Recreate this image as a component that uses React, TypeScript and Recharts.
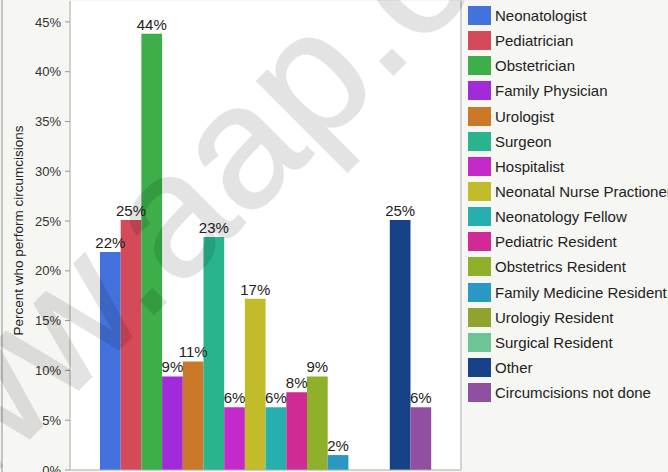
import React from "react";
import { BarChart, Bar, XAxis, YAxis, LabelList, CartesianGrid } from "recharts";

const FONT = '"Liberation Sans", Arial, Helvetica, sans-serif';

const categories = ["Providers"];

const providers = [
  "Neonatologist",
  "Pediatrician",
  "Obstetrician",
  "Family Physician",
  "Urologist",
  "Surgeon",
  "Hospitalist",
  "Neonatal Nurse Practioner",
  "Neonatology Fellow",
  "Pediatric Resident",
  "Obstetrics Resident",
  "Family Medicine Resident",
  "Urologiy Resident",
  "Surgical Resident",
  "Other",
  "Circumcisions not done",
];

// percent who perform circumcisions
const shares = [21.9, 25.1, 43.8, 9.4, 10.9, 23.4, 6.3, 17.2, 6.3, 7.8, 9.4, 1.5, 0, 0, 25.1, 6.3];

const colors = [
  "#4472dc",
  "#d44a5a",
  "#3dae49",
  "#a12ad9",
  "#cc7829",
  "#29b48e",
  "#c42ac9",
  "#c3bc2a",
  "#27afaf",
  "#d02a95",
  "#8eb02a",
  "#2a98c2",
  "#91a22e",
  "#6cc497",
  "#184288",
  "#904fa0",
];

const yTicks = [0, 5, 10, 15, 20, 25, 30, 35, 40, 45];

const data = categories.map((name) => {
  const row: Record<string, string | number> = { name };
  providers.forEach((_, i) => {
    row[`s${i}`] = shares[i];
  });
  return row;
});

const renderValue = (props: any) => {
  const { x, y, width, value } = props;
  if (!value) return null;
  return (
    <text
      x={Number(x) + Number(width) / 2}
      y={Number(y) - 4}
      textAnchor="middle"
      fontSize={15}
      fontFamily={FONT}
      fill="#222"
    >
      {Math.round(Number(value))}%
    </text>
  );
};

// faint site watermark laid over the whole picture
const Watermark = () => (
  <svg
    width={668}
    height={472}
    style={{ position: "absolute", left: 0, top: 0, pointerEvents: "none" }}
  >
    <g opacity={0.105}>
      <text
        x={-117}
        y={585}
        transform="rotate(-45 -117 585)"
        fontSize={174}
        fontFamily={FONT}
        fill="#000"
        stroke="#000"
        strokeWidth={2}
      >
        www.aap.org
      </text>
    </g>
  </svg>
);

export default function App() {
  return (
    <div
      style={{
        position: "absolute",
        left: 0,
        top: 0,
        width: 668,
        height: 472,
        overflow: "hidden",
        background: "#f6f6f2",
        fontFamily: FONT,
      }}
    >
      <div
        style={{
          position: "absolute",
          left: 1,
          top: 0,
          width: 2,
          height: 472,
          background: "#c4c4c4",
        }}
      />
      <BarChart
        width={668}
        height={472}
        data={data}
        margin={{ top: 1, right: 206, bottom: 0, left: 0 }}
        barGap={0}
        barSize={20.7}
      >
        <CartesianGrid horizontal={false} vertical={false} fill="#ffffff" />
        <XAxis dataKey="name" tick={false} tickLine={false} height={2} axisLine={{ stroke: "#a8a8a8" }} />
        <XAxis
          xAxisId="top"
          dataKey="name"
          orientation="top"
          tick={false}
          tickLine={false}
          height={0}
          axisLine={{ stroke: "#a8a8a8" }}
        />
        <YAxis
          domain={[0, 47.1]}
          ticks={yTicks}
          interval={0}
          allowDataOverflow
          width={70}
          tickFormatter={(v: number) => `${v}%`}
          tick={{ fontSize: 13, fill: "#333", fontFamily: FONT }}
          tickLine={{ stroke: "#999" }}
          tickSize={5}
          tickMargin={4}
          axisLine={{ stroke: "#a8a8a8" }}
          label={{
            value: "Percent who perform circumcisions",
            angle: -90,
            position: "center",
            dx: -17,
            dy: -5,
            style: { fontSize: 13.5, fill: "#222", fontFamily: FONT },
          }}
        />
        <YAxis
          yAxisId="right"
          orientation="right"
          domain={[0, 47.1]}
          width={1}
          tick={false}
          tickLine={false}
          axisLine={{ stroke: "#a8a8a8" }}
        />
        {providers.map((p, i) => (
          <Bar key={p} dataKey={`s${i}`} name={p} fill={colors[i]} isAnimationActive={false}>
            <LabelList dataKey={`s${i}`} content={renderValue} />
          </Bar>
        ))}
      </BarChart>
      {/* legend on the right, one swatch per provider */}
      <div style={{ position: "absolute", left: 468, top: 6 }}>
        {providers.map((p, i) => (
          <div
            key={p}
            style={{ display: "flex", alignItems: "center", height: 25.15, whiteSpace: "nowrap" }}
          >
            <span
              style={{
                display: "inline-block",
                width: 23,
                height: 19,
                background: colors[i],
                marginRight: 4,
                marginTop: -6,
              }}
            />
            <span style={{ fontSize: 15, color: "#222", marginTop: -6 }}>{p}</span>
          </div>
        ))}
      </div>
      <Watermark />
    </div>
  );
}
